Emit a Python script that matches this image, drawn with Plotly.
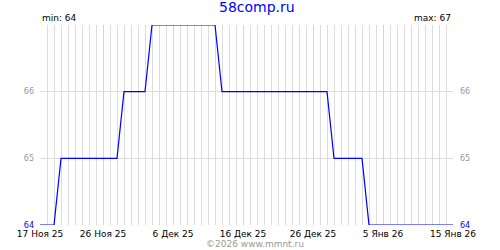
import plotly.graph_objects as go
import pandas as pd

# Data
start_date = "2025-11-17"
values = [64, 64, 64] + [65] * 9 + [66] * 4 + [67] * 10 + [66] * 16 + [65] * 5 + [64] * 13
dates = pd.date_range(start_date, periods=len(values), freq="D")

tick_dates = ["2025-11-17", "2025-11-26", "2025-12-06", "2025-12-16",
              "2025-12-26", "2026-01-05", "2026-01-15"]
tick_labels = ["17 Ноя 25", "26 Ноя 25", "6 Дек 25", "16 Дек 25",
               "26 Дек 25", "5 Янв 26", "15 Янв 26"]
y_ticks = [64, 65, 66, 67]
y_labels = ['<span style="color:#0000ff">64</span>', "65", "66", ""]
title_text = "58comp.ru"
min_text = "min: 64"
max_text = "max: 67"
footer_text = "©2026 www.mmnt.ru"

FONT = "DejaVu Sans"

fig = go.Figure()
fig.add_trace(go.Scatter(x=dates, y=values, mode="lines",
                         line=dict(color="#0000ff", width=1.2),
                         hoverinfo="skip", showlegend=False))
# invisible trace for right axis
fig.add_trace(go.Scatter(x=dates, y=values, mode="lines", yaxis="y2",
                         line=dict(color="rgba(0,0,0,0)", width=0),
                         hoverinfo="skip", showlegend=False))

fig.update_layout(
    width=500, height=250,
    margin=dict(l=40, r=47, t=25, b=25),
    paper_bgcolor="white", plot_bgcolor="white",
    font=dict(family=FONT, size=9, color="black"),
    xaxis=dict(
        type="date",
        range=[tick_dates[0], tick_dates[-1]],
        tickmode="array", tickvals=tick_dates, ticktext=tick_labels,
        showgrid=True, gridcolor="#ffc4c4", gridwidth=1,
        minor=dict(dtick=86400000, tick0=start_date, showgrid=True,
                   gridcolor="#dcdcdc", gridwidth=1, ticks=""),
        zeroline=False, showline=False, ticks="",
        ticklabelstandoff=2,
        tickfont=dict(family=FONT, size=9, color="black"),
        fixedrange=True,
    ),
    yaxis=dict(
        range=[64, 67], tickmode="array", tickvals=y_ticks, ticktext=y_labels,
        showgrid=True, gridcolor="#dcdcdc", gridwidth=1,
        zeroline=False, showline=False, ticks="",
        ticklabelstandoff=5,
        tickfont=dict(family=FONT, size=8, color="#999999"),
        fixedrange=True,
    ),
    yaxis2=dict(
        range=[64, 67], tickmode="array", tickvals=y_ticks, ticktext=y_labels,
        overlaying="y", side="right", showgrid=False,
        zeroline=False, showline=False, ticks="",
        ticklabelstandoff=6,
        tickfont=dict(family=FONT, size=8, color="#999999"),
        fixedrange=True,
    ),
    annotations=[
        dict(text=title_text, x=(257 - 40) / 413, y=1, xref="paper", yref="paper",
             yanchor="bottom", yshift=8,
             showarrow=False, font=dict(family=FONT, size=14, color="#0000ff")),
        dict(text=min_text, x=0, y=1, xref="paper", yref="paper",
             xanchor="left", yanchor="bottom", showarrow=False,
             font=dict(family=FONT, size=9, color="black")),
        dict(text=max_text, x=1, y=1, xref="paper", yref="paper",
             xanchor="right", yanchor="bottom", showarrow=False,
             font=dict(family=FONT, size=9, color="black")),
        dict(text=footer_text, x=0.52, y=0, xref="paper", yref="paper",
             yanchor="top", yshift=-12, showarrow=False,
             font=dict(family=FONT, size=9, color="#999999")),
    ],
)

fig.write_html("out.html")
